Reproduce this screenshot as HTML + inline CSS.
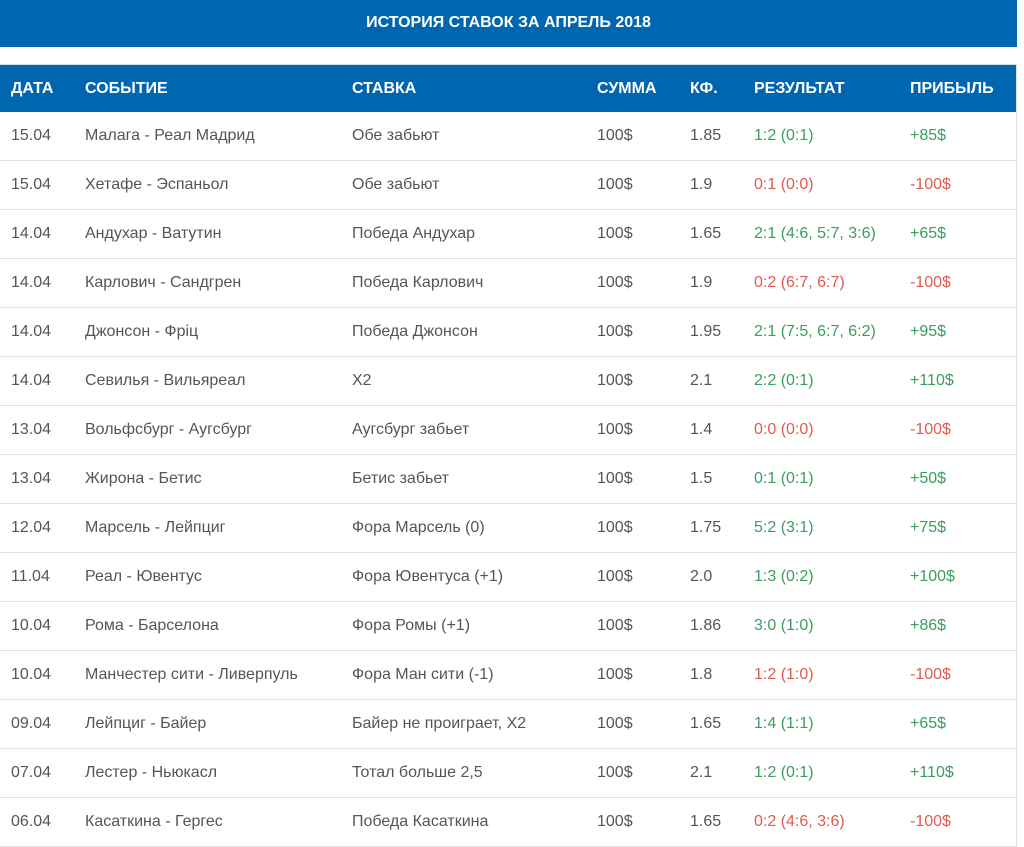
<!DOCTYPE html>
<html><head><meta charset="utf-8">
<style>
body{margin:0;width:1024px;height:836px;overflow:hidden;background:#fff;font-family:"Liberation Sans",sans-serif;}
.title{position:absolute;left:0;top:0;width:1017px;height:47px;background:#0066b0;color:#fff;font-size:16px;font-weight:bold;text-align:center;line-height:45px;}
table{position:absolute;left:0;top:64px;width:1017px;border-collapse:collapse;table-layout:fixed;border-top:1px solid #ddd;border-right:1px solid #e3e3e3;}
th{background:#0066b0;color:#fff;font-size:16px;font-weight:bold;text-align:left;height:47px;padding:0;}
td{height:48px;border-bottom:1px solid #e0e0e0;font-size:16px;color:#555;padding:0;}
th:first-child,td:first-child{padding-left:11px;}
.g{color:#3a9e5e}.r{color:#e05a4e}
</style></head><body>
<div class="title">ИСТОРИЯ СТАВОК ЗА АПРЕЛЬ 2018</div>
<table>
<colgroup><col style="width:85px"><col style="width:267px"><col style="width:245px"><col style="width:93px"><col style="width:64px"><col style="width:156px"><col></colgroup>
<thead><tr><th>ДАТА</th><th>СОБЫТИЕ</th><th>СТАВКА</th><th>СУММА</th><th>КФ.</th><th>РЕЗУЛЬТАТ</th><th>ПРИБЫЛЬ</th></tr></thead>
<tbody>
<tr><td>15.04</td><td>Малага - Реал Мадрид</td><td>Обе забьют</td><td>100$</td><td>1.85</td><td class="g">1:2 (0:1)</td><td class="g">+85$</td></tr>
<tr><td>15.04</td><td>Хетафе - Эспаньол</td><td>Обе забьют</td><td>100$</td><td>1.9</td><td class="r">0:1 (0:0)</td><td class="r">-100$</td></tr>
<tr><td>14.04</td><td>Андухар - Ватутин</td><td>Победа Андухар</td><td>100$</td><td>1.65</td><td class="g">2:1 (4:6, 5:7, 3:6)</td><td class="g">+65$</td></tr>
<tr><td>14.04</td><td>Карлович - Сандгрен</td><td>Победа Карлович</td><td>100$</td><td>1.9</td><td class="r">0:2 (6:7, 6:7)</td><td class="r">-100$</td></tr>
<tr><td>14.04</td><td>Джонсон - Фріц</td><td>Победа Джонсон</td><td>100$</td><td>1.95</td><td class="g">2:1 (7:5, 6:7, 6:2)</td><td class="g">+95$</td></tr>
<tr><td>14.04</td><td>Севилья - Вильяреал</td><td>Х2</td><td>100$</td><td>2.1</td><td class="g">2:2 (0:1)</td><td class="g">+110$</td></tr>
<tr><td>13.04</td><td>Вольфсбург - Аугсбург</td><td>Аугсбург забьет</td><td>100$</td><td>1.4</td><td class="r">0:0 (0:0)</td><td class="r">-100$</td></tr>
<tr><td>13.04</td><td>Жирона - Бетис</td><td>Бетис забьет</td><td>100$</td><td>1.5</td><td class="g">0:1 (0:1)</td><td class="g">+50$</td></tr>
<tr><td>12.04</td><td>Марсель - Лейпциг</td><td>Фора Марсель (0)</td><td>100$</td><td>1.75</td><td class="g">5:2 (3:1)</td><td class="g">+75$</td></tr>
<tr><td>11.04</td><td>Реал - Ювентус</td><td>Фора Ювентуса (+1)</td><td>100$</td><td>2.0</td><td class="g">1:3 (0:2)</td><td class="g">+100$</td></tr>
<tr><td>10.04</td><td>Рома - Барселона</td><td>Фора Ромы (+1)</td><td>100$</td><td>1.86</td><td class="g">3:0 (1:0)</td><td class="g">+86$</td></tr>
<tr><td>10.04</td><td>Манчестер сити - Ливерпуль</td><td>Фора Ман сити (-1)</td><td>100$</td><td>1.8</td><td class="r">1:2 (1:0)</td><td class="r">-100$</td></tr>
<tr><td>09.04</td><td>Лейпциг - Байер</td><td>Байер не проиграет, Х2</td><td>100$</td><td>1.65</td><td class="g">1:4 (1:1)</td><td class="g">+65$</td></tr>
<tr><td>07.04</td><td>Лестер - Ньюкасл</td><td>Тотал больше 2,5</td><td>100$</td><td>2.1</td><td class="g">1:2 (0:1)</td><td class="g">+110$</td></tr>
<tr><td>06.04</td><td>Касаткина - Гергес</td><td>Победа Касаткина</td><td>100$</td><td>1.65</td><td class="r">0:2 (4:6, 3:6)</td><td class="r">-100$</td></tr>
</tbody></table>
</body></html>
